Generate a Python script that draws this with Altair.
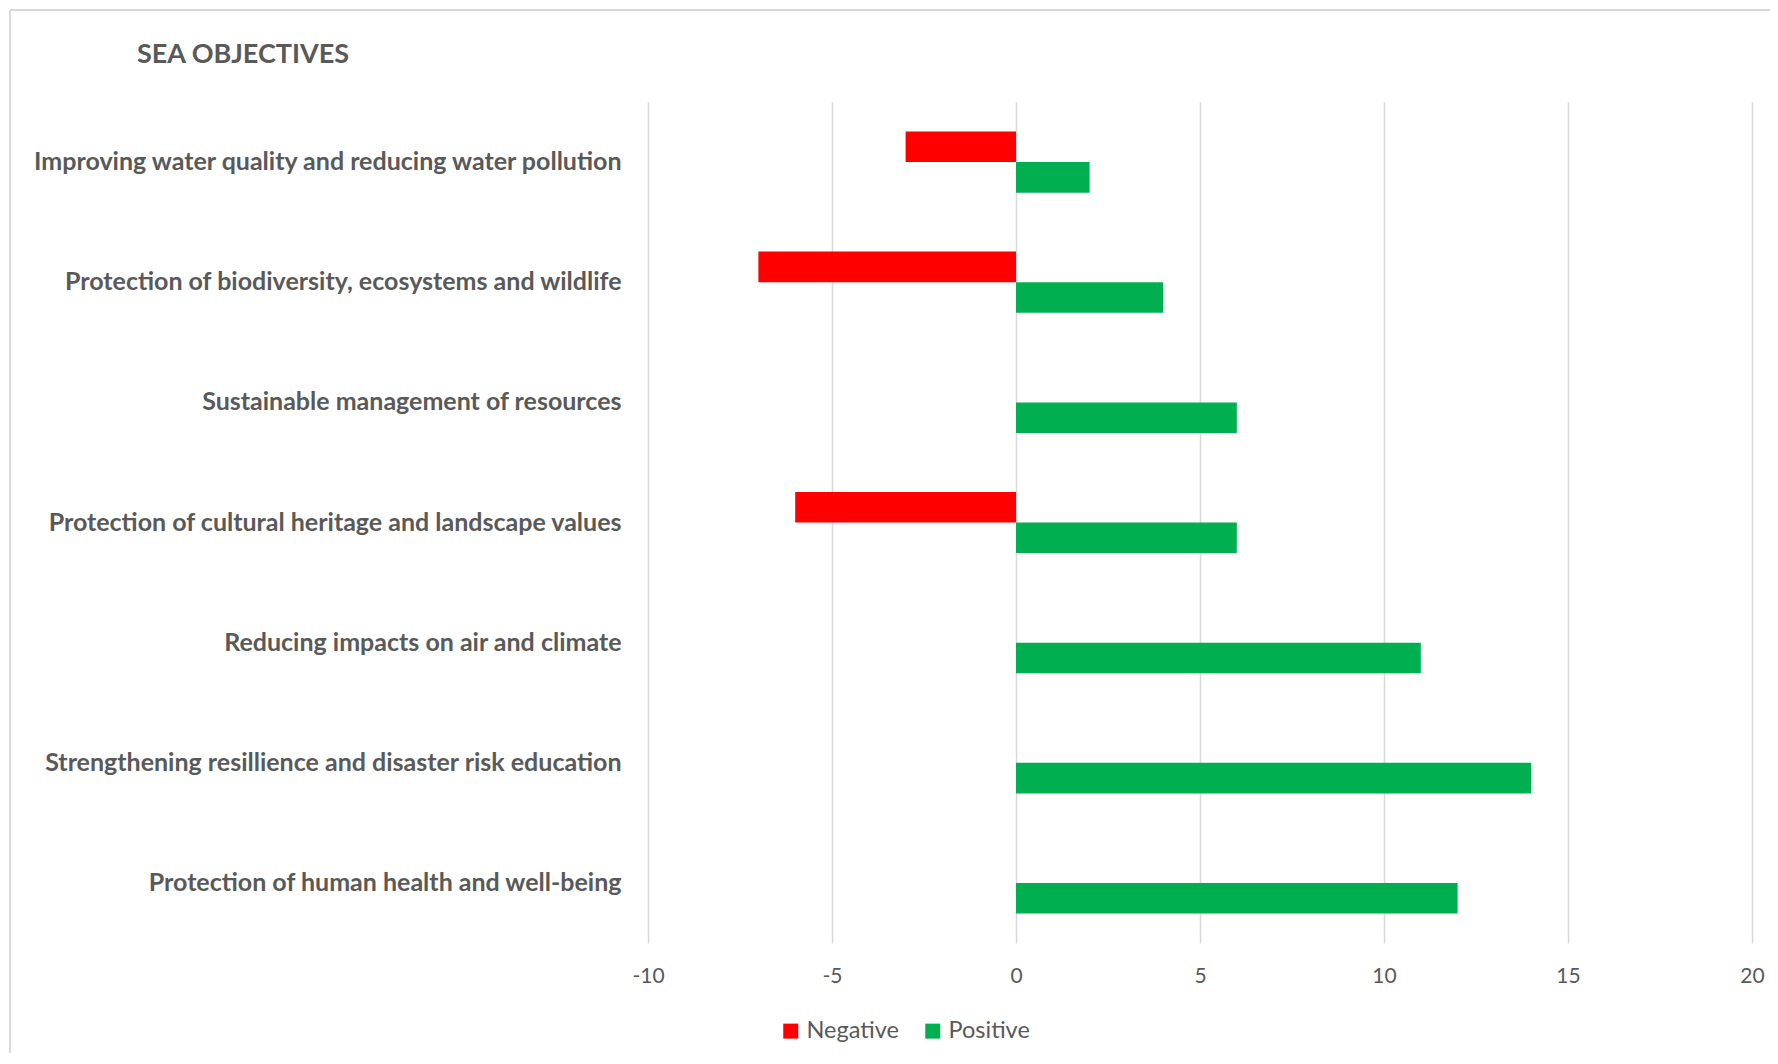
import altair as alt
import pandas as pd

categories = [
    "Improving water quality and reducing water pollution",
    "Protection of biodiversity, ecosystems and wildlife",
    "Sustainable management of resources",
    "Protection of cultural heritage and landscape values",
    "Reducing impacts on air and climate",
    "Strengthening resillience and disaster risk education",
    "Protection of human health and well-being",
]
negative = [-3, -7, None, -6, None, None, None]
positive = [2, 4, 6, 6, 11, 14, 12]
series = ["Negative", "Positive"]
colors = ["#FF0000", "#00B050"]
x_ticks = [-10, -5, 0, 5, 10, 15, 20]

rows = []
for c, n, p in zip(categories, negative, positive):
    if n is not None:
        rows.append({"cat": c, "series": "Negative", "value": n})
    if p is not None:
        rows.append({"cat": c, "series": "Positive", "value": p})
df = pd.DataFrame(rows)

FONT = "Lato"
GREY = "#595959"

bars = alt.Chart(df).mark_bar(size=30.6).encode(
    y=alt.Y("cat:N", sort=categories, title=None,
            scale=alt.Scale(paddingInner=0.49, paddingOuter=0.245),
            axis=alt.Axis(domain=False, ticks=False, grid=False, labelFont=FONT,
                          labelFontSize=25, labelFontWeight="bold", labelColor=GREY,
                          labelPadding=27, labelLimit=700)),
    yOffset=alt.YOffset("series:N", sort=series, scale=alt.Scale(domain=series, paddingInner=0, paddingOuter=0)),
    x=alt.X("value:Q", title=None,
            scale=alt.Scale(domain=[-10, 20], nice=False, zero=False),
            axis=alt.Axis(values=x_ticks, domain=False, ticks=False, grid=True,
                          gridColor="#D9D9D9", gridWidth=1.5, labelFont=FONT,
                          labelFontSize=21, labelColor=GREY, labelPadding=22,
                          labelFlush=False, labelExpr="'' + datum.value")),
    color=alt.Color("series:N", sort=series,
                    scale=alt.Scale(domain=series, range=colors),
                    legend=alt.Legend(title=None, orient="none", direction="horizontal",
                                      legendX=131, legendY=917, symbolType="square",
                                      symbolSize=225, symbolStrokeWidth=0,
                                      labelFont=FONT, labelFontSize=23.5, labelColor=GREY,
                                      labelOffset=4, columnPadding=22)),
)

title = alt.Chart(pd.DataFrame({"t": ["SEA OBJECTIVES"]})).mark_text(
    font=FONT, fontSize=27, fontWeight="bold", color=GREY, align="left", baseline="middle"
).encode(text="t:N", x=alt.value(-511), y=alt.value(-47))

border_v = alt.Chart(pd.DataFrame({"a": [0]})).mark_rule(color="#D9D9D9", strokeWidth=2).encode(
    x=alt.value(-638), y=alt.value(-92), y2=alt.value(1100))
border_h = alt.Chart(pd.DataFrame({"a": [0]})).mark_rule(color="#D9D9D9", strokeWidth=2).encode(
    x=alt.value(-638), x2=alt.value(1300), y=alt.value(-92))

chart = alt.layer(border_v, border_h, bars, title).properties(
    width=1104, height=841,
    autosize=alt.AutoSizeParams(type="none"),
    padding={"left": 640, "top": 94, "right": 18, "bottom": 110},
).configure_view(stroke=None)

chart.save("out.html", embed_options={"renderer": "svg", "actions": False})
